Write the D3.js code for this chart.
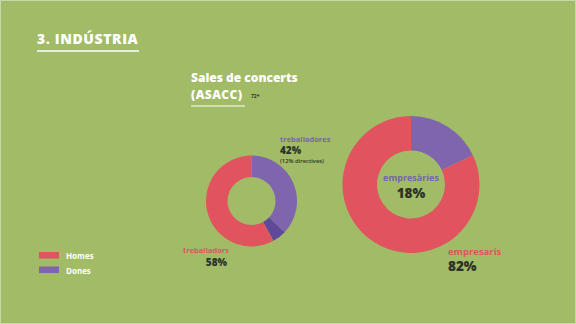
<!DOCTYPE html>
<html>
<head>
<meta charset="utf-8">
<script src="https://cdn.jsdelivr.net/npm/d3@7"></script>
<style>
  html, body { margin: 0; padding: 0; background: #a1bb67; }
  svg { display: block; font-family: "Open Sans", Lato, sans-serif; }
</style>
</head>
<body>
<svg id="chart" width="576" height="324"></svg>
<script>
// Workers in concert halls (ASACC): share of women and men
const groups = ["treballadors", "empresaris"];
const womenShare = [42, 18];       // % women (purple)
const menShare = [58, 82];         // % men (red)
const directivesShare = [5, 0];    // part of women's arc that are directors (≈12% of the 42%)
const legendLabels = ["Homes", "Dones"];

const colors = {
  bg: "#a1bb67",
  men: "#e0535f",
  women: "#7e65ae",
  directives: "#5e4a98",
  womenText: "#7566a8",
  menText: "#dd5560",
  dark: "#2e3328",
  white: "#ffffff"
};

const svg = d3.select("#chart");
svg.append("rect").attr("width", 576).attr("height", 324).attr("fill", colors.bg);
svg.append("rect").attr("x", 0.5).attr("y", 0.5).attr("width", 575).attr("height", 323)
  .attr("fill", "none").attr("stroke", "#c9d8a8").attr("stroke-width", 1);

// Section title
svg.append("text").attr("x", 37).attr("y", 44).attr("fill", colors.white)
  .attr("font-size", 14).attr("font-weight", 800).attr("letter-spacing", 0.6)
  .text("3. INDÚSTRIA");
svg.append("line").attr("x1", 37).attr("x2", 139).attr("y1", 51).attr("y2", 51)
  .attr("stroke", colors.white).attr("stroke-width", 1.5);

// Chart title
const t = svg.append("g");
t.append("text").attr("x", 191).attr("y", 82).attr("fill", colors.white)
  .attr("font-size", 12).attr("font-weight", 800).text("Sales de concerts");
t.append("text").attr("x", 191).attr("y", 99).attr("fill", colors.white)
  .attr("font-size", 12).attr("font-weight", 800).attr("letter-spacing", 0.4).text("(ASACC)");
t.append("text").attr("x", 251).attr("y", 98).attr("fill", colors.dark)
  .attr("font-size", 5).attr("font-weight", 700).text("72*");
t.append("line").attr("x1", 191).attr("x2", 245).attr("y1", 106).attr("y2", 106)
  .attr("stroke", colors.white).attr("stroke-width", 1.2);

// Donut geometry per group
const donuts = [
  { cx: 251.5, cy: 201, outer: 45.5, inner: 24 },
  { cx: 411, cy: 184.5, outer: 68.5, inner: 34 }
];

const tau = 2 * Math.PI;
const angle = d3.scaleLinear().domain([0, 100]).range([0, tau]);

groups.forEach((g, i) => {
  const d = donuts[i];
  const arc = d3.arc().innerRadius(d.inner).outerRadius(d.outer);
  const gEl = svg.append("g").attr("transform", `translate(${d.cx},${d.cy})`);
  const w = womenShare[i], dir = directivesShare[i];
  const segs = [
    { from: 0, to: w - dir, fill: colors.women },
    { from: w - dir, to: w, fill: colors.directives },
    { from: w, to: w + menShare[i], fill: colors.men }
  ].filter(s => s.to > s.from);
  gEl.selectAll("path").data(segs).join("path")
    .attr("d", s => arc({ startAngle: angle(s.from), endAngle: angle(s.to) }))
    .attr("fill", s => s.fill);
});

// Labels — small donut
svg.append("text").attr("x", 280).attr("y", 142).attr("fill", colors.womenText)
  .attr("font-size", 7.5).attr("font-weight", 700).text("treballadores");
svg.append("text").attr("x", 280).attr("y", 153.5).attr("fill", colors.dark)
  .attr("font-size", 10).attr("font-weight", 800).text(womenShare[0] + "%");
svg.append("text").attr("x", 280).attr("y", 162.5).attr("fill", colors.dark)
  .attr("font-size", 5.8).attr("font-weight", 600).text("(12% directives)");

svg.append("text").attr("x", 229).attr("y", 253).attr("text-anchor", "end")
  .attr("fill", colors.menText).attr("font-size", 7.5).attr("font-weight", 700).text("treballadors");
svg.append("text").attr("x", 227).attr("y", 265.5).attr("text-anchor", "end")
  .attr("fill", colors.dark).attr("font-size", 10).attr("font-weight", 800).text(menShare[0] + "%");

// Labels — large donut
svg.append("text").attr("x", 411).attr("y", 180.5).attr("text-anchor", "middle")
  .attr("fill", colors.womenText).attr("font-size", 9).attr("font-weight", 700).text("empresàries");
svg.append("text").attr("x", 411).attr("y", 198).attr("text-anchor", "middle")
  .attr("fill", colors.dark).attr("font-size", 13.5).attr("font-weight", 800).text(womenShare[1] + "%");

svg.append("text").attr("x", 448).attr("y", 254.5).attr("fill", colors.menText)
  .attr("font-size", 9.5).attr("font-weight", 700).text("empresaris");
svg.append("text").attr("x", 448).attr("y", 270.5).attr("fill", colors.dark)
  .attr("font-size", 13.5).attr("font-weight", 800).text(menShare[1] + "%");

// Legend
const legendColors = [colors.men, colors.women];
const leg = svg.append("g");
legendLabels.forEach((l, i) => {
  leg.append("rect").attr("x", 39).attr("y", 252 + i * 14.5).attr("width", 20).attr("height", 6.5)
    .attr("fill", legendColors[i]);
  leg.append("text").attr("x", 66).attr("y", 259 + i * 14.5).attr("fill", colors.white)
    .attr("font-size", 8).attr("font-weight", 700).text(l);
});
</script>
</body>
</html>
